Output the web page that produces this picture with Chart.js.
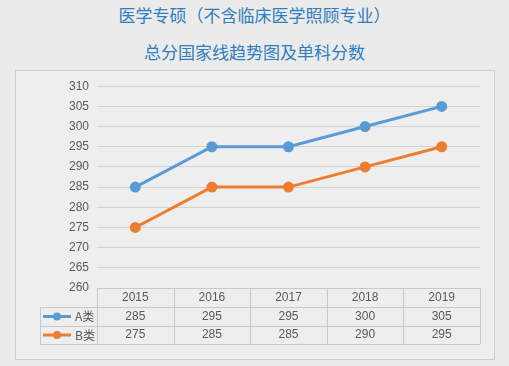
<!DOCTYPE html>
<html>
<head>
<meta charset="utf-8">
<script src="https://cdn.jsdelivr.net/npm/chart.js@4"></script>
<style>
body { margin: 0; background: #ebebeb; width: 509px; height: 366px; overflow: hidden; font-family: "Noto Sans CJK SC", sans-serif; }
.title { position: absolute; left: 0; width: 509px; text-align: center; color: #2f7ebf; font-size: 17px; line-height: 20px; }
#frame { position: absolute; left: 15px; top: 70px; width: 478px; height: 288px; border: 1px solid #cdcdcd; background: #eeeeee; }
</style>
</head>
<body>
<div class="title" style="top:5px">医学专硕（不含临床医学照顾专业）</div>
<div class="title" style="top:42px">总分国家线趋势图及单科分数</div>
<div id="frame"><canvas id="chart"></canvas></div>
<script>
const years = ['2015', '2016', '2017', '2018', '2019'];
const scoresA = [285, 295, 295, 300, 305];
const scoresB = [275, 285, 285, 290, 295];
const seriesNames = ['A类', 'B类'];

// draws the data table under the plot, using the x scale columns
const dataTable = {
    id: 'dataTable',
    afterDraw(chart) {
        const ctx = chart.ctx;
        const area = chart.chartArea;
        const colW = (area.right - area.left) / years.length;
        const top = area.bottom;
        const rows = [top, top + 19, top + 38, top + 56];
        const legendLeft = 24;
        ctx.save();
        ctx.strokeStyle = '#c9c9c9';
        ctx.lineWidth = 1;
        ctx.beginPath();
        ctx.moveTo(area.left, rows[0] + 0.5);
        ctx.lineTo(area.right, rows[0] + 0.5);
        for (let r = 1; r < rows.length; r++) {
            ctx.moveTo(legendLeft, rows[r] + 0.5);
            ctx.lineTo(area.right, rows[r] + 0.5);
        }
        for (let i = 0; i <= years.length; i++) {
            const x = Math.round(area.left + i * colW) + 0.5;
            ctx.moveTo(x, rows[0]);
            ctx.lineTo(x, rows[3]);
        }
        ctx.moveTo(legendLeft + 0.5, rows[1]);
        ctx.lineTo(legendLeft + 0.5, rows[3]);
        ctx.stroke();

        ctx.font = '12px "Liberation Sans", sans-serif';
        ctx.fillStyle = '#595959';
        ctx.textAlign = 'center';
        ctx.textBaseline = 'middle';
        years.forEach((y, i) => {
            const cx = chart.scales.x.getPixelForValue(i);
            ctx.fillText(y, cx, (rows[0] + rows[1]) / 2);
        });
        chart.data.datasets.forEach((ds, d) => {
            const cy = (rows[d + 1] + rows[d + 2]) / 2;
            ds.data.forEach((v, i) => {
                const cx = chart.scales.x.getPixelForValue(i);
                ctx.fillText(String(v), cx, cy);
            });
            // legend key
            ctx.strokeStyle = ds.borderColor;
            ctx.lineWidth = 3;
            ctx.beginPath();
            ctx.moveTo(legendLeft + 3, cy);
            ctx.lineTo(legendLeft + 31, cy);
            ctx.stroke();
            ctx.fillStyle = ds.borderColor;
            ctx.beginPath();
            ctx.arc(legendLeft + 17, cy, 4, 0, Math.PI * 2);
            ctx.fill();
            ctx.fillStyle = '#595959';
            ctx.textAlign = 'left';
            ctx.font = '12px "Noto Sans CJK SC", sans-serif';
            ctx.fillText(ds.label, legendLeft + 35, cy);
            ctx.textAlign = 'center';
            ctx.font = '12px "Liberation Sans", sans-serif';
        });
        ctx.restore();
    }
};

new Chart(document.getElementById('chart'), {
    type: 'line',
    data: {
        labels: years,
        datasets: [{
            label: seriesNames[0],
            data: scoresA,
            borderColor: '#5b9bd5',
            backgroundColor: '#5b9bd5',
            borderWidth: 3,
            pointRadius: 4,
            pointHoverRadius: 4
        }, {
            label: seriesNames[1],
            data: scoresB,
            borderColor: '#ed7d31',
            backgroundColor: '#ed7d31',
            borderWidth: 3,
            pointRadius: 4,
            pointHoverRadius: 4
        }]
    },
    options: {
        responsive: true,
        maintainAspectRatio: false,
        animation: false,
        layout: { padding: { left: 0, right: 14, top: 14, bottom: 71 } },
        plugins: {
            legend: { display: false },
            tooltip: { enabled: false }
        },
        scales: {
            x: {
                display: false,
                offset: true
            },
            y: {
                min: 260,
                max: 310,
                afterFit: (scale) => { scale.width = 81; },
                ticks: {
                    stepSize: 5,
                    padding: 8,
                    color: '#595959',
                    font: { family: '"Liberation Sans", sans-serif', size: 12 }
                },
                grid: { color: '#d3d3d3', drawTicks: false },
                border: { display: false }
            }
        }
    },
    plugins: [dataTable]
});
</script>
</body>
</html>
